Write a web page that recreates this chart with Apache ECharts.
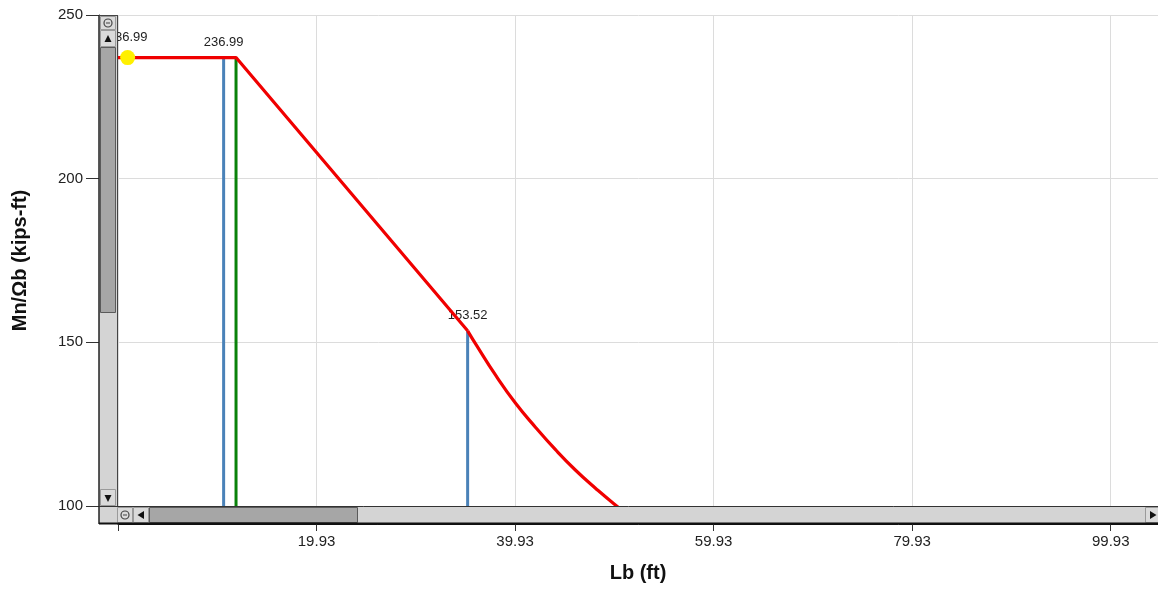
<!DOCTYPE html>
<html><head><meta charset="utf-8">
<script src="https://cdn.jsdelivr.net/npm/echarts@6/dist/echarts.min.js"></script>
<style>html,body{margin:0;padding:0;background:#fff;}#c{width:1158px;height:590px;}</style>
</head><body><div id="c"></div>
<script>
// ---- data ----
const lineLb   = [-0.07, 11.82, 35.15];          // plateau + inelastic segment
const lineMn   = [236.99, 236.99, 153.52];
const curveLb  = [35.15, 36, 38, 40, 42, 44, 46, 48, 50, 52];   // elastic LTB segment
const curveMn  = [153.52, 149.3, 139.8, 131.3, 124.0, 117.2, 111.0, 105.5, 100.4, 95.8];
const markerLb = [0.9];
const markerMn = [236.99];
const blueLb   = [10.57, 35.15];
const blueMn   = [236.99, 153.52];
const greenLb  = [11.82];
const greenMn  = [236.99];
const xTickStart = -0.07, xTickStep = 20, xMax = 105.7;
const yTicks = [100, 150, 200, 250];
const xTitle = 'Lb (ft)';
const yTitle = 'Mn/Ωb (kips-ft)';

// ---- layout ----
const W = 1158, GL = 118, GT = 15, GB = 506, GW = 1050;
const FONT = '"Liberation Sans", Arial, sans-serif';

const chart = echarts.init(document.getElementById('c'), null, {renderer: 'canvas'});

function zip(a, b) { return a.map((v, i) => [v, b[i]]); }
function vline(x, top, color, withLabel) {
  return {
    type: 'line', silent: true, symbol: 'circle', symbolSize: 1, showSymbol: true, z: 2,
    itemStyle: {color: color},
    lineStyle: {color: color, width: 3},
    data: [{value: [x, yTicks[0]], label: {show: false}}, {value: [x, top], label: {show: withLabel}}],
    label: {show: withLabel, position: 'top', distance: 8, formatter: p => p.value[1].toFixed(2),
            fontFamily: FONT, fontSize: 13, color: '#222'}
  };
}

const series = [];
blueLb.forEach((x, i) => series.push(vline(x, blueMn[i], '#4a82b8', true)));
greenLb.forEach((x, i) => series.push(vline(x, greenMn[i], '#0a820a', false)));
series.push({type: 'line', symbol: 'none', z: 3, lineStyle: {color: '#f00000', width: 3.2},
             data: zip(lineLb, lineMn)});
series.push({type: 'line', symbol: 'none', z: 3, smooth: true, lineStyle: {color: '#f00000', width: 3.2},
             data: zip(curveLb, curveMn)});
series.push({type: 'scatter', z: 4, symbolSize: 15, itemStyle: {color: '#fff000', opacity: 1},
             data: zip(markerLb, markerMn),
             label: {show: true, position: 'top', distance: 6, formatter: p => p.value[1].toFixed(2),
                     fontFamily: FONT, fontSize: 13, color: '#222'}});

// ---- scrollbar decorations (chart chrome) ----
const g = [];
const BTN = '#dadada', BTNS = '#9a9a9a', TRACK = '#d4d4d4', THUMB = '#a6a6a6';
function rect(x, y, w, h, fill, stroke, lw) {
  g.push({type: 'rect', z: 100, shape: {x, y, width: w, height: h},
          style: {fill: fill, stroke: stroke || null, lineWidth: lw || 1}});
}
function line(x1, y1, x2, y2, c, lw) {
  g.push({type: 'line', z: 101, shape: {x1, y1, x2, y2}, style: {stroke: c, lineWidth: lw || 1}});
}
function tri(pts) { g.push({type: 'polygon', z: 102, shape: {points: pts}, style: {fill: '#111'}}); }
function zoomIcon(cx, cy) {
  g.push({type: 'circle', z: 102, shape: {cx, cy, r: 4}, style: {fill: 'none', stroke: '#444', lineWidth: 1.2}});
  g.push({type: 'line', z: 102, shape: {x1: cx - 2, y1: cy, x2: cx + 2, y2: cy}, style: {stroke: '#444', lineWidth: 1}});
}
// vertical bar
rect(99, GT, 19, 509, TRACK);
rect(100.5, 47.5, 15, 265, THUMB, '#5a5a5a', 1);
rect(100.5, 16.5, 15, 13, BTN, BTNS); zoomIcon(108, 23);
rect(100.5, 30.5, 15, 16, BTN, BTNS); tri([[104.5, 42], [111.5, 42], [108, 35]]);
rect(100.5, 489.5, 15, 16, BTN, BTNS); tri([[104.5, 495], [111.5, 495], [108, 502]]);
// horizontal bar
rect(99, GB, W - 99, 18, TRACK);
rect(149.5, 507.5, 208, 15, THUMB, '#5a5a5a', 1);
rect(117.5, 507.5, 15, 15, BTN, BTNS); zoomIcon(125, 515);
rect(133.5, 507.5, 15, 15, BTN, BTNS); tri([[144, 511], [144, 519], [137.5, 515]]);
rect(1145.5, 507.5, 15, 15, BTN, BTNS); tri([[1150, 511], [1150, 519], [1156.5, 515]]);
// borders
line(99, GT, 99, 524, '#222', 1.5);
line(117.5, GT, 117.5, GB, '#444', 1);
line(99, GT + 0.5, 118, GT + 0.5, '#444', 1);
line(99, GB + 0.5, W, GB + 0.5, '#333', 1);
line(99, 523.5, W, 523.5, '#111', 2);

chart.setOption({
  animation: false,
  backgroundColor: '#fff',
  grid: {left: GL, width: GW, top: GT, height: GB - GT, containLabel: false, outerBoundsMode: 'none'},
  xAxis: {
    type: 'value', min: xTickStart, max: xMax, interval: xTickStep, offset: 18,
    axisLine: {show: true, onZero: false, lineStyle: {color: '#111', width: 1}},
    axisTick: {show: true, length: 7, lineStyle: {color: '#333'}},
    axisLabel: {
      margin: 10, fontFamily: FONT, fontSize: 15, color: '#222',
      formatter: v => {
        const k = (v - xTickStart) / xTickStep;
        if (k < 0.5 || Math.abs(k - Math.round(k)) > 1e-6) return '';
        return v.toFixed(2);
      }
    },
    splitLine: {show: true, lineStyle: {color: '#dcdcdc', width: 1}},
    name: xTitle, nameLocation: 'middle', nameGap: 39,
    nameTextStyle: {fontFamily: FONT, fontSize: 20, fontWeight: 'bold', color: '#111', padding: [0, 10, 0, 0]}
  },
  yAxis: {
    type: 'value', min: yTicks[0], max: yTicks[yTicks.length - 1], interval: yTicks[1] - yTicks[0], offset: 19,
    axisLine: {show: true, onZero: false, lineStyle: {color: '#222', width: 1}},
    axisTick: {show: true, length: 13, lineStyle: {color: '#333'}},
    axisLabel: {margin: 16, fontFamily: FONT, fontSize: 15, color: '#222'},
    splitLine: {show: true, lineStyle: {color: '#dcdcdc', width: 1}},
    name: yTitle, nameLocation: 'middle', nameGap: 69,
    nameTextStyle: {fontFamily: FONT, fontSize: 20, fontWeight: 'bold', color: '#111'}
  },
  graphic: {elements: g},
  series: series
});
</script>
</body></html>
